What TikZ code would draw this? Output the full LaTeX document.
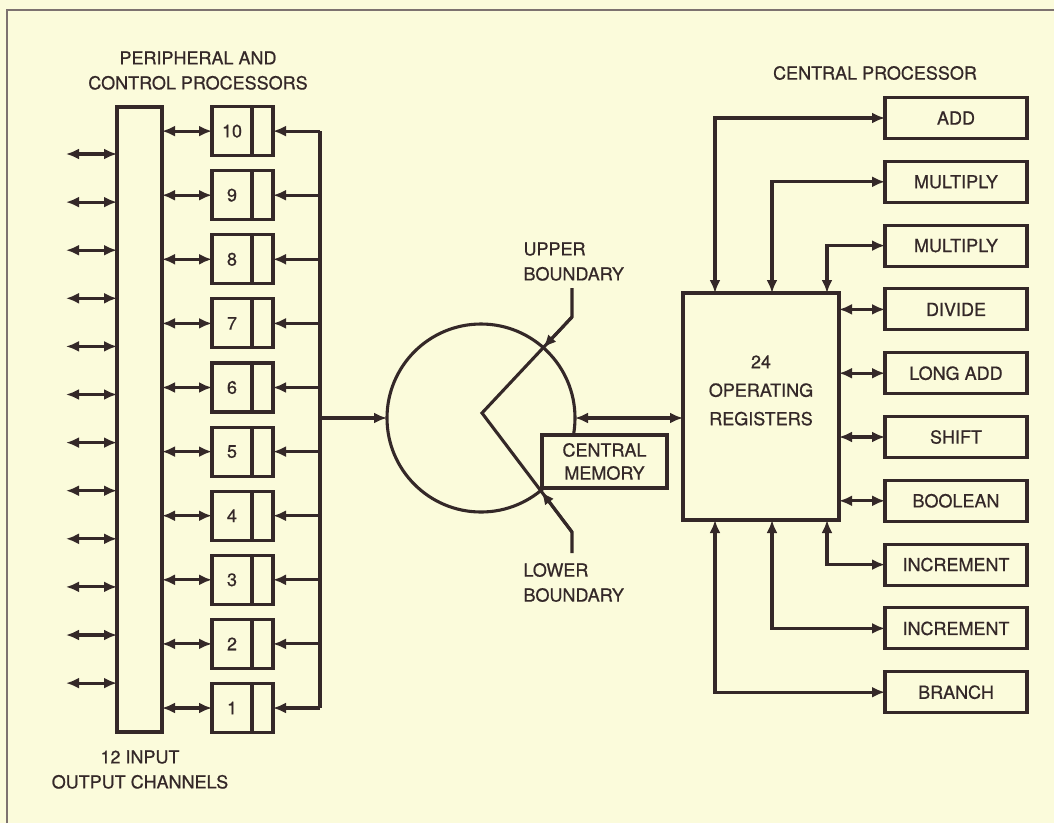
\documentclass[tikz,border=0pt]{standalone}
\usepackage{fontspec}
\setmainfont{TeX Gyre Heros}[FakeBold=0.7]
\usetikzlibrary{arrows.meta,positioning,calc}
\definecolor{paper}{RGB}{251,251,219}
\definecolor{ink}{RGB}{52,40,40}
\definecolor{rim}{RGB}{125,114,112}

\begin{document}
\begin{tikzpicture}[x=1pt,y=-1pt,color=ink,line width=3.1pt,
    lbl/.style={inner sep=0pt,font=\fontsize{18}{25}\selectfont},
    ppu/.style={draw,minimum width=40pt,minimum height=49pt,inner sep=0pt,outer sep=0pt,font=\fontsize{18}{22}\selectfont},
    cell/.style={draw,minimum width=21pt,minimum height=49pt,inner sep=0pt,outer sep=0pt},
    fu/.style={draw,fill=paper,minimum width=142pt,minimum height=41pt,inner sep=0pt,outer sep=0pt,font=\fontsize{18}{22}\selectfont},
    dbl/.style={{Latex[length=13pt,width=11pt]}-{Latex[length=13pt,width=11pt]}},
    one/.style={-{Latex[length=13pt,width=11pt]}}]
                \path[use as bounding box,fill=paper] (0,0) rectangle (1054,823);
                \draw[rim,line width=2pt] (7,823) -- (7,10) -- (1054,10);
                % peripheral side
                \node[draw,minimum width=45pt,minimum height=625pt,inner sep=0pt,outer sep=0pt] (bus) at (139.5,419.5) {};
                \foreach \j in {1,...,12}{
                    \pgfmathsetmacro{\iy}{154+(\j-1)*48.1}
                    \coordinate (io\j) at (66,\iy);
                    \draw[dbl] (io\j) -- (bus.west |- io\j);
                }
                \foreach \i in {1,...,10}{
                    \pgfmathsetmacro{\py}{708-(\i-1)*64.1}
                    \node[ppu] (n\i) at (232,\py) {\i};
                    \node[cell,right=0pt of n\i] (c\i) {};
                    \coordinate (r\i) at (320,\py);
                    \draw[dbl] (bus.east |- n\i.west) -- (n\i.west);
                    \draw[one] (r\i) -- (c\i.east);
                }
                \draw (r10) -- (r1);
                \node[lbl,align=center] (pcp) at (198,70.5) {PERIPHERAL AND\\CONTROL PROCESSORS};
                \node[lbl,align=center] (ioc) at (140,769.5) {12 INPUT\\OUTPUT CHANNELS};
                % memory
                \node[draw,circle,minimum size=188pt,inner sep=0pt,outer sep=0pt] (mem) at (481,418) {};
                \draw[one] (r1 |- mem.west) -- (mem.west);
                \coordinate (apex) at (482,413);
                \coordinate (ub) at (572,288);
                \coordinate (ubk) at (572,317);
                \coordinate (lb) at (572,553);
                \coordinate (lbk) at (572,532);
                \draw (ubk) -- (apex) -- (lbk);
                \draw[one] (ub) -- (ubk) -- ($(ubk)!0.32!(apex)$);
                \draw[one] (lb) -- (lbk) -- ($(lbk)!0.34!(apex)$);
                \node[fu,minimum width=125pt,minimum height=53pt,align=center,font=\fontsize{18}{23}\selectfont] (cm) at (604.5,461.5) {CENTRAL\\MEMORY};
                \node[lbl,align=left,anchor=west] (upb) at (522,261.5) {UPPER\\BOUNDARY};
                \node[lbl,align=left,anchor=west] (lob) at (522,582.5) {LOWER\\BOUNDARY};
                % central processor
                \node[draw,minimum width=156pt,minimum height=227pt,inner sep=0pt,outer sep=0pt] (regs) at (761,406.5) {};
                \node[lbl,align=center,font=\fontsize{18}{28.5}\selectfont] (regtxt) at ([yshift=16pt]regs.center) {24\\OPERATING\\REGISTERS};
                \draw[dbl] (mem.east) -- (regs.west |- mem.east);
                \node[lbl] (cpu) at (875,73) {CENTRAL PROCESSOR};
                \foreach \u/\name in {1/ADD,2/MULTIPLY,3/MULTIPLY,4/DIVIDE,5/LONG ADD,6/SHIFT,7/BOOLEAN,8/INCREMENT,9/INCREMENT,10/BRANCH}{
                    \pgfmathsetmacro{\fy}{118+(\u-1)*63.8}
                    \node[fu] (f\u) at (956,\fy) {\name};
                }
                \coordinate (t1) at ([xshift=32pt]regs.north west);
                \coordinate (t2) at ([xshift=89pt]regs.north west);
                \coordinate (t3) at ([xshift=144pt]regs.north west);
                \coordinate (b1) at ([xshift=32pt]regs.south west);
                \coordinate (b2) at ([xshift=89pt]regs.south west);
                \coordinate (b3) at ([xshift=144pt]regs.south west);
                \draw[dbl] (f1.west) -| (t1);
                \draw[dbl] (f2.west) -| (t2);
                \draw[dbl] (f3.west) -| (t3);
                \foreach \u in {4,...,7}
                    \draw[dbl] (regs.east |- f\u.west) -- (f\u.west);
                \draw[dbl] (f8.west) -| (b3);
                \draw[dbl] (f9.west) -| (b2);
                \draw[dbl] (f10.west) -| (b1);
            \end{tikzpicture}
\end{document}
